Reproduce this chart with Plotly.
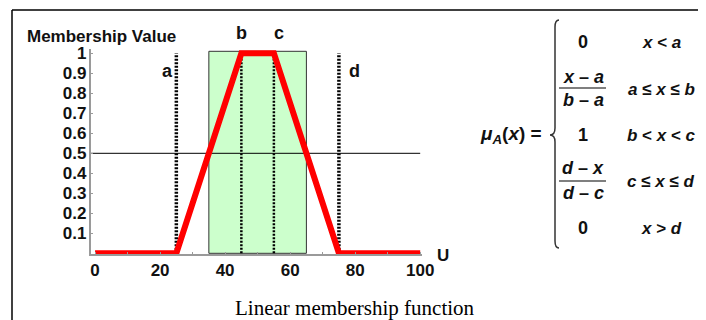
import plotly.graph_objects as go

# page body has an 8px margin, so the figure is placed 8px in from the corner
OFF = 8
W, H = 706 - 2 * OFF, 320 - OFF

# ------------------ Data ------------------
u_points = [0, 25, 45, 55, 75, 100]
mu_points = [0, 0, 1, 1, 0, 0]

param_names = ["a", "b", "c", "d"]
param_values = [25, 45, 55, 75]
param_tops = [1.0, 0.99, 0.99, 1.0]
param_widths = [3.5, 2.5, 2.5, 3.5]
label_x = [22.2, 45, 56.6, 79.7]
label_px_y = [71, 33, 33, 71]

band_x = [35, 65]
band_top = 1.01
cut_level = 0.5

x_ticks = [0, 20, 40, 60, 80, 100]
y_ticks = [0.1, 0.2, 0.3, 0.4, 0.5, 0.6, 0.7, 0.8, 0.9, 1.0]
y_ticktext = ["0.1", "0.2", "0.3", "0.4", "0.5", "0.6", "0.7", "0.8", "0.9", "1"]

x_range = [-1.4, 100.4]
y_range = [-0.005, 1.02]

TXT = "#111111"
SANS = "Liberation Sans, Arial, sans-serif"


# reference pixel -> paper fraction
def px(x):
    return (x - OFF) / W


def py(y):
    return 1 - (y - OFF) / H


fig = go.Figure()

# green band
fig.add_trace(go.Scatter(
    x=[band_x[0], band_x[1], band_x[1], band_x[0], band_x[0]],
    y=[0, 0, band_top, band_top, 0],
    mode="lines", fill="toself", fillcolor="#ccffcc",
    line=dict(color="#333333", width=1), hoverinfo="skip",
))

# 0.5 level
fig.add_trace(go.Scatter(
    x=[x_range[0], u_points[-1]], y=[cut_level, cut_level],
    mode="lines", line=dict(color="#000000", width=1), hoverinfo="skip",
))

# dotted parameter lines
for name, v, top, lw in zip(param_names, param_values, param_tops, param_widths):
    fig.add_trace(go.Scatter(
        x=[v, v], y=[0, top], mode="lines",
        line=dict(color="#000000", width=lw, dash="2px,1.5px"),
        hoverinfo="skip",
    ))

# membership function
fig.add_trace(go.Scatter(
    x=u_points, y=mu_points, mode="lines",
    line=dict(color="#ff0000", width=6), hoverinfo="skip",
))

for name, lx, ly in zip(param_names, label_x, label_px_y):
    fig.add_annotation(x=lx, xref="x", y=py(ly), yref="paper",
                       text=f"<b>{name}</b>", showarrow=False,
                       xanchor="center", yanchor="middle",
                       font=dict(size=18, color=TXT, family=SANS))

fig.update_layout(
    width=W, height=H,
    margin=dict(l=0, r=0, t=0, b=0, autoexpand=False),
    paper_bgcolor="white", plot_bgcolor="white",
    showlegend=False,
    font=dict(family=SANS, color=TXT),
    xaxis=dict(
        domain=[px(90.5), px(421.5)], range=x_range,
        showgrid=False, zeroline=False,
        showline=True, linecolor="#9a9a9a", linewidth=1.5,
        tickvals=x_ticks, ticktext=[f"<b>{t}</b>" for t in x_ticks],
        ticks="inside", ticklen=3, tickcolor="#9a9a9a",
        minor=dict(dtick=10, ticks="inside", ticklen=3, tickcolor="#9a9a9a"),
        tickfont=dict(size=17, color=TXT, family=SANS),
    ),
    yaxis=dict(
        domain=[py(254.3), py(49.3)], range=y_range,
        showgrid=False, zeroline=False,
        showline=True, linecolor="#9a9a9a", linewidth=1.5,
        tickvals=y_ticks, ticktext=[f"<b>{t}</b>" for t in y_ticktext],
        ticks="inside", ticklen=3, tickcolor="#9a9a9a",
        ticklabelstandoff=-1,
        tickfont=dict(size=17, color=TXT, family=SANS),
    ),
)

# frame
fig.add_shape(type="line", xref="paper", yref="paper",
              x0=px(12), y0=py(10), x1=1, y1=py(10),
              line=dict(color="#000000", width=1.5))
fig.add_shape(type="line", xref="paper", yref="paper",
              x0=px(12), y0=py(10), x1=px(12), y1=0,
              line=dict(color="#000000", width=1.5))


def ptxt(x, y, s, size, family=SANS, color=TXT):
    fig.add_annotation(xref="paper", yref="paper", x=px(x), y=py(y),
                       xanchor="center", yanchor="middle",
                       text=s, showarrow=False,
                       font=dict(size=size, color=color, family=family))


# axis titles
ptxt(101.5, 36, "<b>Membership Value</b>", 17)
ptxt(443, 255, "<b>U</b>", 17)

# caption
ptxt(355, 308, "Linear membership function", 21,
     family="Liberation Serif, Times New Roman, serif", color="#000000")

# formula
ptxt(511, 135, "<b><i>μ<sub>A</sub></i>(<i>x</i>) =</b>", 19)

brace = (f"M {px(559)} {py(20)} Q {px(555)} {py(20)} {px(555)} {py(27)} "
         f"L {px(555)} {py(128)} Q {px(555)} {py(135)} {px(550)} {py(135)} "
         f"Q {px(555)} {py(135)} {px(555)} {py(142)} "
         f"L {px(555)} {py(241)} Q {px(555)} {py(248)} {px(559)} {py(248)}")
fig.add_shape(type="path", xref="paper", yref="paper", path=brace,
              line=dict(color="#333333", width=1.5))

col1, col2 = 583, 661
rows = [
    (col1, 42, "0"),
    (col2, 42, "<i>x</i> &lt; <i>a</i>"),
    (col1, 77, "<i>x</i> – <i>a</i>"),
    (col1, 100, "<i>b</i> – <i>a</i>"),
    (col2, 90, "<i>a</i> ≤ <i>x</i> ≤ <i>b</i>"),
    (col1, 135, "1"),
    (col2, 135, "<i>b</i> &lt; <i>x</i> &lt; <i>c</i>"),
    (col1, 168, "<i>d</i> – <i>x</i>"),
    (col1, 193, "<i>d</i> – <i>c</i>"),
    (col2, 181, "<i>c</i> ≤ <i>x</i> ≤ <i>d</i>"),
    (col1, 228, "0"),
    (col2, 228, "<i>x</i> &gt; <i>d</i>"),
]
for x, y, s in rows:
    ptxt(x, y, f"<b>{s}</b>", 18 if x == col1 else 17)

for fy in [88, 181]:
    fig.add_shape(type="line", xref="paper", yref="paper",
                  x0=px(559), y0=py(fy), x1=px(606), y1=py(fy),
                  line=dict(color="#555555", width=1.5))

fig.write_html("out.html")
